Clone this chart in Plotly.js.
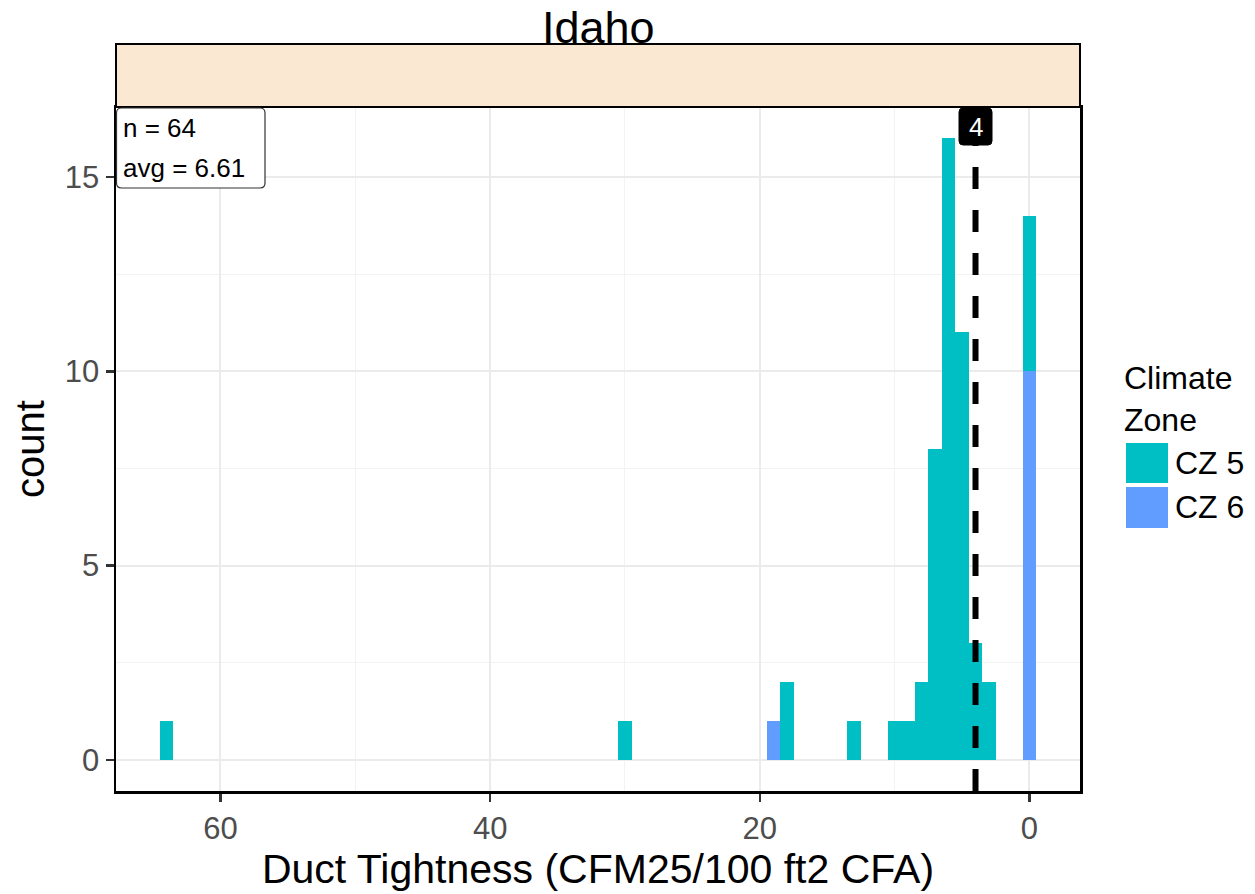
<!DOCTYPE html>
<html>
<head>
<meta charset="utf-8">
<script src="https://cdn.plot.ly/plotly-3.0.1.min.js"></script>
<style>html,body{margin:0;padding:0;background:#fff;}#chart{width:1255px;height:894px;}</style>
</head>
<body>
<div id="chart"></div>
<script>
// Histogram bins (bin centers, binwidth = 1) — x axis reversed
const cz5Bins   = [64, 30, 18, 13, 10, 9, 8, 7, 6, 5, 4, 3, 0];
const cz5Counts = [1, 1, 2, 1, 1, 1, 2, 8, 16, 11, 3, 2, 4];
const cz6Bins   = [19, 0];
const cz6Counts = [1, 10];
const seriesNames = ["CZ 5", "CZ 6"];
const seriesColors = ["#00BFC4", "#619CFF"];
const panelTitle = "Idaho";
const statsLines = ["n = 64", "avg = 6.61"];
const medianValue = 4;
const xTicks = [0, 20, 40, 60];
const yTicks = [0, 5, 10, 15];
const xTitle = "Duct Tightness (CFM25/100 ft2 CFA)";
const yTitle = "count";
const legendTitle = "Climate<br>Zone";

const FONT = "Liberation Sans, Arial, sans-serif";
const W = 1255, H = 894;
const L = 116, R = 1080, T = 107, B = 791;
const pw = R - L, ph = B - T;
const px = v => (v - L) / pw;      // pixel x -> paper
const py = v => (B - v) / ph;      // pixel y -> paper

function roundRect(x0, y0, x1, y1, rx, ry) {
  return `M${x0+rx},${y0} L${x1-rx},${y0} Q${x1},${y0} ${x1},${y0+ry} L${x1},${y1-ry} Q${x1},${y1} ${x1-rx},${y1} L${x0+rx},${y1} Q${x0},${y1} ${x0},${y1-ry} L${x0},${y0+ry} Q${x0},${y0} ${x0+rx},${y0} Z`;
}

const traces = [
  {type: "bar", x: cz6Bins, y: cz6Counts, width: 1, name: seriesNames[1],
   marker: {color: seriesColors[1], line: {width: 0}}, showlegend: false, hoverinfo: "x+y+name"},
  {type: "bar", x: cz5Bins, y: cz5Counts, width: 1, name: seriesNames[0],
   marker: {color: seriesColors[0], line: {width: 0}}, showlegend: false, hoverinfo: "x+y+name"}
];

const xPerPx = 71.5 / pw;
const shapes = [
  {type: "rect", xref: "paper", yref: "paper", x0: 0, x1: 1, y0: 1, y1: py(44),
   fillcolor: "#FAE8D2", line: {color: "#000", width: 2}, layer: "above"},
  {type: "line", xref: "x", yref: "paper", x0: medianValue, x1: medianValue, y0: 0, y1: 1,
   line: {color: "#000", width: 6, dash: "22px,21px"}, layer: "above"},
  {type: "path", xref: "x", yref: "paper",
   path: roundRect(medianValue - 16.5 * xPerPx, py(145), medianValue + 16.5 * xPerPx, py(108), 4 * xPerPx, 4 / ph),
   fillcolor: "#000", line: {color: "#000", width: 1}, layer: "above"},
  {type: "path", xref: "paper", yref: "paper",
   path: roundRect(px(116.5), py(188), px(265), py(108), 5 / pw, 5 / ph),
   fillcolor: "#fff", line: {color: "#333", width: 1.2}, layer: "above"},
  {type: "rect", xref: "paper", yref: "paper", x0: px(1126), x1: px(1168), y0: py(483), y1: py(443),
   fillcolor: seriesColors[0], line: {width: 0}},
  {type: "rect", xref: "paper", yref: "paper", x0: px(1126), x1: px(1168), y0: py(528), y1: py(487),
   fillcolor: seriesColors[1], line: {width: 0}}
];

const annotations = [
  {text: panelTitle, xref: "paper", yref: "paper", x: 0.5, y: py(27), xanchor: "center", yanchor: "middle",
   showarrow: false, font: {family: FONT, size: 45, color: "#000"}},
  {text: statsLines[0], xref: "paper", yref: "paper", x: px(121), y: py(128), xanchor: "left", yanchor: "middle",
   showarrow: false, font: {family: FONT, size: 26, color: "#000"}},
  {text: statsLines[1], xref: "paper", yref: "paper", x: px(121), y: py(168), xanchor: "left", yanchor: "middle",
   showarrow: false, font: {family: FONT, size: 26, color: "#000"}},
  {text: String(medianValue), xref: "x", yref: "paper", x: medianValue, y: py(127), xanchor: "center", yanchor: "middle",
   showarrow: false, font: {family: FONT, size: 26, color: "#fff"}},
  {text: legendTitle, xref: "paper", yref: "paper", x: px(1122), y: py(399), xanchor: "left", yanchor: "middle",
   align: "left", showarrow: false, font: {family: FONT, size: 32, color: "#000"}},
  {text: seriesNames[0], xref: "paper", yref: "paper", x: px(1173), y: py(463), xanchor: "left", yanchor: "middle",
   showarrow: false, font: {family: FONT, size: 32, color: "#000"}},
  {text: seriesNames[1], xref: "paper", yref: "paper", x: px(1173), y: py(507), xanchor: "left", yanchor: "middle",
   showarrow: false, font: {family: FONT, size: 32, color: "#000"}}
];

const layout = {
  width: W, height: H,
  margin: {l: L, r: W - R, t: T, b: H - B, pad: 0},
  paper_bgcolor: "#fff", plot_bgcolor: "#fff",
  barmode: "stack", bargap: 0,
  showlegend: false,
  font: {family: FONT, color: "#000"},
  xaxis: {
    range: [67.75, -3.75], autorange: false,
    tickvals: xTicks, ticktext: xTicks.map(String),
    ticks: "outside", ticklen: 8, tickwidth: 2.5, tickcolor: "#333",
    tickfont: {family: FONT, size: 31, color: "#4D4D4D"},
    showgrid: true, gridcolor: "#EBEBEB", gridwidth: 2,
    minor: {dtick: 10, tick0: 0, showgrid: true, gridcolor: "#F3F3F3", gridwidth: 1, ticks: ""},
    zeroline: false, showline: true, linecolor: "#000", linewidth: 2.5, mirror: true,
    title: {text: xTitle, font: {family: FONT, size: 41, color: "#000"}, standoff: 6},
    automargin: false
  },
  yaxis: {
    range: [-0.8, 16.8], autorange: false,
    tickvals: yTicks, ticktext: yTicks.map(String),
    ticks: "outside", ticklen: 8, tickwidth: 2.5, tickcolor: "#333",
    tickfont: {family: FONT, size: 31, color: "#4D4D4D"},
    showgrid: true, gridcolor: "#EBEBEB", gridwidth: 2,
    minor: {dtick: 2.5, tick0: 0, showgrid: true, gridcolor: "#F3F3F3", gridwidth: 1, ticks: ""},
    zeroline: false, showline: true, linecolor: "#000", linewidth: 2.5, mirror: true,
    title: {text: yTitle, font: {family: FONT, size: 40, color: "#000"}, standoff: 8},
    automargin: false
  },
  shapes: shapes,
  annotations: annotations
};

Plotly.newPlot("chart", traces, layout, {displayModeBar: false, staticPlot: true});
</script>
</body>
</html>
